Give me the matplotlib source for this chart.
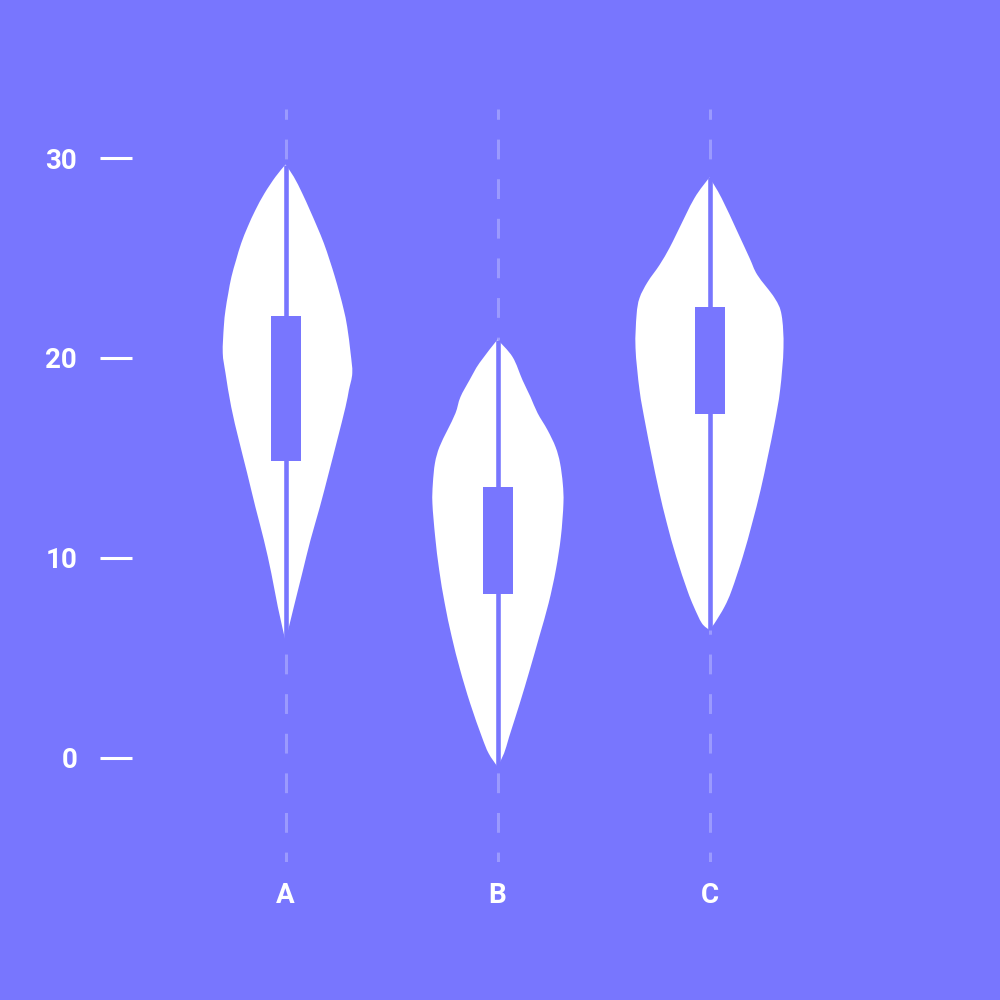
import matplotlib
matplotlib.use("Agg")
import matplotlib.pyplot as plt
from matplotlib.path import Path
from matplotlib.patches import PathPatch, Rectangle
import numpy as np

plt.rcParams['font.family'] = ['Roboto', 'DejaVu Sans']
plt.rcParams['lines.scale_dashes'] = False

# ---------------- data ----------------
categories = ["A", "B", "C"]

# summary stats
mins = [5.83, -0.46, 6.38]
maxs = [29.68, 20.92, 29.04]
q1s = [14.84, 8.18, 17.19]
q3s = [22.10, 13.54, 22.55]

# density profile (half widths, category units)
a_left_v = [29.68, 29.07, 28.24, 27.40, 26.57, 25.74, 24.90, 24.06, 23.23, 22.40, 21.56, 20.25,
            19.24, 17.54, 15.89, 14.24, 12.54, 10.89, 9.23, 7.53, 5.83]
a_left_w = [0.0, 0.047, 0.099, 0.142, 0.178, 0.209, 0.233, 0.255, 0.270, 0.283, 0.291, 0.296,
            0.283, 0.256, 0.220, 0.181, 0.142, 0.102, 0.067, 0.036, 0.0]
a_right_v = [29.68, 29.07, 28.24, 27.40, 26.57, 25.74, 24.90, 24.06, 23.23, 22.40, 21.56, 20.25,
             19.24, 18.39, 17.54, 15.89, 14.24, 12.54, 10.89, 9.23, 7.53, 5.83]
a_right_w = [0.0, 0.039, 0.079, 0.115, 0.149, 0.181, 0.208, 0.233, 0.255, 0.275, 0.291, 0.307,
             0.315, 0.299, 0.283, 0.244, 0.204, 0.162, 0.118, 0.079, 0.039, 0.0]

b_left_v = [20.92, 19.75, 18.89, 18.04, 17.24, 16.39, 15.54, 14.74, 13.70, 12.72, 11.05, 9.38,
            7.72, 6.05, 4.38, 2.71, 1.04, 0.21, -0.46]
b_left_w = [0.0, 0.085, 0.132, 0.175, 0.198, 0.236, 0.274, 0.295, 0.305, 0.307, 0.294, 0.275,
            0.249, 0.216, 0.176, 0.129, 0.074, 0.042, 0.0]
b_right_v = [20.92, 20.05, 18.89, 18.04, 17.24, 16.39, 15.54, 14.74, 13.70, 12.72, 11.05, 9.38,
             7.72, 6.05, 4.38, 2.71, 1.04, 0.21, -0.46]
b_right_w = [0.0, 0.071, 0.118, 0.156, 0.189, 0.236, 0.274, 0.295, 0.308, 0.311, 0.299, 0.275,
             0.241, 0.197, 0.152, 0.105, 0.055, 0.031, 0.0]

c_left_v = [29.04, 28.00, 26.31, 25.50, 24.65, 23.80, 23.00, 22.15, 20.50, 18.39, 16.73, 15.06,
            13.39, 11.72, 10.05, 8.38, 7.55, 6.72, 6.38]
c_left_w = [0.0, 0.071, 0.151, 0.189, 0.236, 0.292, 0.330, 0.344, 0.349, 0.330, 0.303, 0.272,
            0.239, 0.201, 0.157, 0.105, 0.074, 0.036, 0.0]
c_right_v = [29.04, 28.00, 26.31, 25.00, 24.15, 23.00, 22.15, 20.50, 18.39, 16.73, 15.06,
             13.39, 11.72, 10.05, 8.38, 7.55, 6.72, 6.38]
c_right_w = [0.0, 0.057, 0.132, 0.189, 0.226, 0.307, 0.340, 0.349, 0.333, 0.307, 0.275,
             0.241, 0.201, 0.157, 0.105, 0.071, 0.024, 0.0]

y_ticks = [0, 10, 20, 30]

profiles = [
    (a_left_v, a_left_w, a_right_v, a_right_w),
    (b_left_v, b_left_w, b_right_v, b_right_w),
    (c_left_v, c_left_w, c_right_v, c_right_w),
]

# ---------------- style ----------------
BG = "#7876FE"
GRID = "#9B9AFE"
WHITE = "#FFFFFF"


def smooth_side(pts):
    """Catmull-Rom curve through pts, as cubic Bezier path pieces."""
    pts = np.asarray(pts, float)
    n = len(pts)
    verts, codes = [], []
    for k in range(n - 1):
        p0 = pts[k - 1] if k > 0 else pts[k]
        p1 = pts[k]
        p2 = pts[k + 1]
        p3 = pts[k + 2] if k + 2 < n else pts[k + 1]
        c1 = p1 + (p2 - p0) / 6.0
        c2 = p2 - (p3 - p1) / 6.0
        verts += [tuple(c1), tuple(c2), tuple(p2)]
        codes += [Path.CURVE4] * 3
    return verts, codes


fig = plt.figure(figsize=(10, 10), dpi=100, facecolor=BG)
ax = fig.add_axes([0.132, 0.138, 0.738, 0.753])
ax.set_facecolor(BG)

px_per_cat = 212.0
ax.set_xlim((132 - 285.5) / px_per_cat, (870 - 285.5) / px_per_cat)
ax.set_ylim(-5.23, 32.46)

for i, (lv, lw, rv, rw) in enumerate(profiles):
    left = [(i - w, v) for v, w in zip(lv, lw)]                     # top -> bottom
    right = [(i + w, v) for v, w in zip(reversed(rv), reversed(rw))]  # bottom -> top
    verts = [left[0]]
    codes = [Path.MOVETO]
    v1, c1 = smooth_side(left)
    verts += v1; codes += c1
    verts.append(right[0]); codes.append(Path.LINETO)
    v2, c2 = smooth_side(right)
    verts += v2; codes += c2
    verts.append(left[0]); codes.append(Path.CLOSEPOLY)
    ax.add_patch(PathPatch(Path(verts, codes), facecolor=WHITE, edgecolor='none', zorder=2))
    # whisker line min..max
    ax.plot([i, i], [mins[i], maxs[i]], color=BG, lw=3.3, solid_capstyle='butt', zorder=3)
    # IQR box
    bw = 15 / px_per_cat
    ax.add_patch(Rectangle((i - bw, q1s[i]), 2 * bw, q3s[i] - q1s[i],
                           facecolor=BG, edgecolor='none', zorder=4))

ax.set_xticks(range(len(categories)))
ax.set_xticklabels(categories)
ax.set_yticks(y_ticks)
ax.set_yticklabels([str(t) for t in y_ticks])

ax.xaxis.grid(True, color=GRID, linewidth=2.2, linestyle=(7.13, (14.26, 14.26)))
ax.yaxis.grid(False)
ax.set_axisbelow(True)

for s in ax.spines.values():
    s.set_visible(False)

ax.tick_params(axis='x', length=0, pad=14.5, labelsize=20, labelcolor=WHITE)
ax.tick_params(axis='y', direction='out', length=23, width=2.2, color=WHITE,
               pad=16.5, labelsize=20, labelcolor=WHITE)
for lab in ax.get_xticklabels() + ax.get_yticklabels():
    lab.set_fontweight('bold')

fig.savefig("out.png", dpi=100, facecolor=BG)
